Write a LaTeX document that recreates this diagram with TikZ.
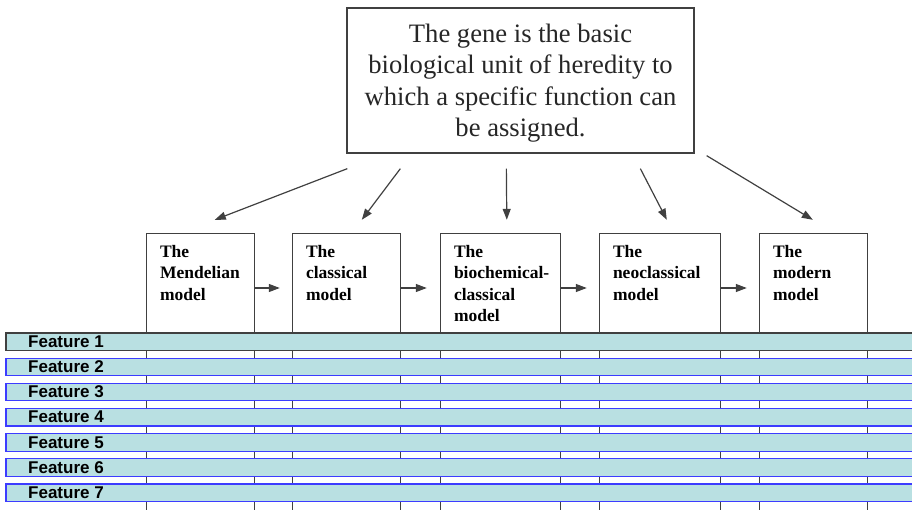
\documentclass[tikz,border=0pt]{standalone}
\usepackage{fontspec}
\setmainfont{Liberation Serif}
\newfontfamily\featfont{Liberation Sans}
\usetikzlibrary{arrows.meta,calc}
\definecolor{barfill}{HTML}{B9E0E2}
\definecolor{barblue}{HTML}{3C3CFF}
\definecolor{linegray}{HTML}{404040}
\tikzset{
  topbox/.style={draw=linegray, line width=1.3pt, minimum width=347pt, minimum height=145pt, inner sep=0pt},
  toptext/.style={inner sep=0pt, align=center, text=black!85, font=\fontsize{26.6}{31.5}\selectfont},
  mbox/.style={draw=none, minimum height=276pt, inner sep=0pt},
  mside/.style={draw=linegray, line width=1.3pt},
  mtext/.style={anchor=north west, inner sep=0pt, align=left, font=\fontsize{17.5}{21.5}\selectfont\bfseries},
  arr/.style={draw=linegray, line width=1.2pt, -{Triangle[length=11pt,width=8pt]}},
  featbar/.style={fill=barfill, draw=barblue, line width=1.2pt},
  featbarone/.style={fill=barfill, draw=linegray, line width=1.2pt},
  feattext/.style={anchor=west, inner sep=0pt, font=\featfont\fontsize{17}{17}\selectfont\bfseries},
}
\begin{document}
\begin{tikzpicture}[x=1pt,y=-1pt]
\useasboundingbox (0,0) rectangle (912,510);
\clip (0,0) rectangle (912,510);
\node[topbox] (top) at (520.5,80.5) {};
\node[toptext] (toptxt) at ([yshift=-2.5pt]top.center) {The gene is the basic\\biological unit of heredity to\\which a specific function can\\be assigned.};
% model boxes
\node[mbox, minimum width=107pt] (m1) at (200.5,372) {};
\node[mbox, minimum width=107pt] (m2) at (346.5,372) {};
\node[mbox, minimum width=119pt] (m3) at (500.5,372) {};
\node[mbox, minimum width=120pt] (m4) at (660,372) {};
\node[mbox, minimum width=107pt] (m5) at (813.5,372) {};
\foreach \m in {m1,m2,m3,m4,m5}{
  \draw[mside] (\m.south west) -- (\m.north west) -- (\m.north east) -- (\m.south east);
}
\node[mtext] (t1) at ([xshift=13pt,yshift=-11pt]m1.north west) {The\\Mendelian\\model};
\node[mtext] (t2) at ([xshift=13pt,yshift=-11pt]m2.north west) {The\\classical\\model};
\node[mtext] (t3) at ([xshift=13pt,yshift=-11pt]m3.north west) {The\\biochemical-\\classical\\model};
\node[mtext] (t4) at ([xshift=13pt,yshift=-11pt]m4.north west) {The\\neoclassical\\model};
\node[mtext] (t5) at ([xshift=13pt,yshift=-11pt]m5.north west) {The\\modern\\model};
% arrows from top box
\draw[arr] ([xshift=1pt,yshift=-15pt]top.south west) -- ([xshift=68pt,yshift=14pt]m1.north west);
\draw[arr] ([xshift=54pt,yshift=-15pt]top.south west) -- ([xshift=69pt,yshift=14pt]m2.north west);
\draw[arr] ([xshift=160pt,yshift=-15pt]top.south west) -- ([xshift=66pt,yshift=14pt]m3.north west);
\draw[arr] ([xshift=294pt,yshift=-15pt]top.south west) -- ([xshift=67pt,yshift=14pt]m4.north west);
\draw[arr] ([xshift=12pt,yshift=-2pt]top.south east) -- ([xshift=53pt,yshift=14pt]m5.north west);
% arrows between models
\coordinate (ar) at (0,288);
\draw[arr] (m1.east |- ar) -- ([xshift=-13pt]m2.west |- ar);
\draw[arr] (m2.east |- ar) -- ([xshift=-14pt]m3.west |- ar);
\draw[arr] (m3.east |- ar) -- ([xshift=-13pt]m4.west |- ar);
\draw[arr] (m4.east |- ar) -- ([xshift=-13pt]m5.west |- ar);
% feature bars
\foreach \i in {1,...,7}{
  \pgfmathsetmacro{\yt}{333+25.15*(\i-1)}
  \ifnum\i=1
    \draw[featbarone] (6,\yt) rectangle (916,\yt+17.5);
  \else
    \draw[featbar] (6,\yt) rectangle (916,\yt+17.5);
  \fi
  \node[feattext] (f\i) at (28,\yt+8.75) {Feature \i};
}
\end{tikzpicture}
\end{document}
